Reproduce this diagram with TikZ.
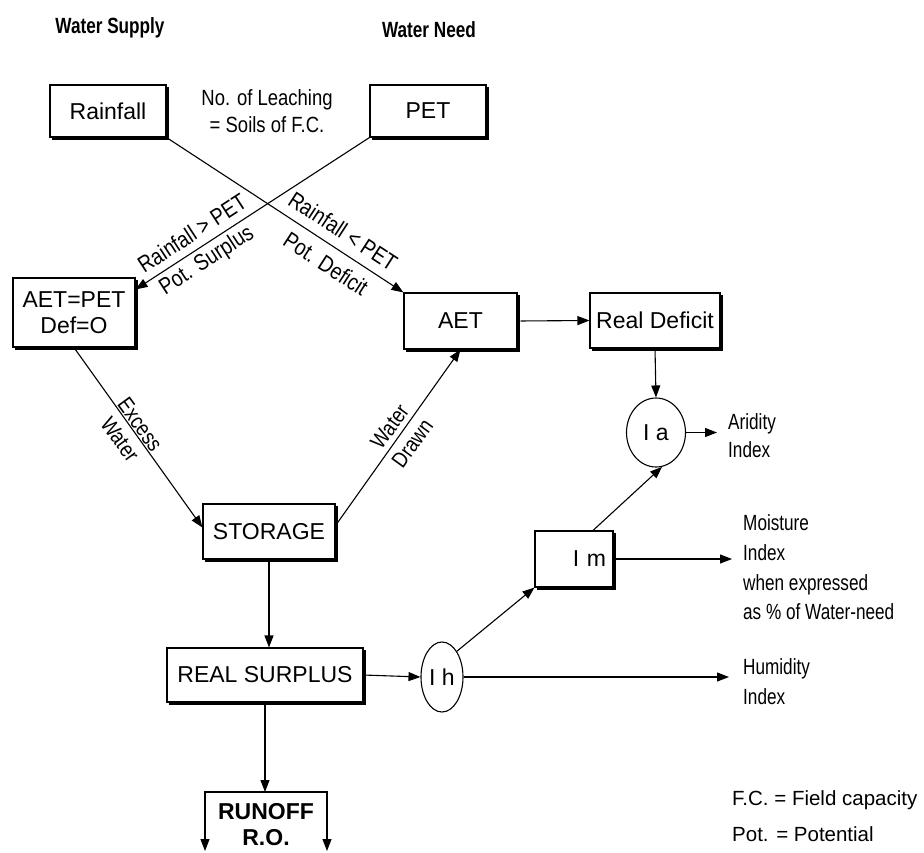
\documentclass[tikz,border=0pt]{standalone}
\usepackage{fontspec}
\setmainfont{Liberation Sans}
\newfontfamily\labfont[FakeStretch=0.78]{Liberation Sans}
\newfontfamily\diagfont[FakeStretch=0.84]{Liberation Sans}
\usetikzlibrary{arrows.meta,shapes.geometric,calc}
\newcommand\boxshade[1]{\draw[line width=2.4pt] ($(#1.south west)+(2.5,1.2)$) -- ($(#1.south east)+(1.2,1.2)$) -- ($(#1.north east)+(1.2,2.5)$);}
\begin{document}
\begin{tikzpicture}[x=1pt,y=-1pt,
  box/.style={draw, fill=white, line width=1.1pt, inner sep=0pt,
    font=\fontsize{23}{26}\selectfont},
  oval/.style={draw, ellipse, line width=1.1pt, inner sep=0pt, font=\fontsize{23}{26}\selectfont},
  lab/.style={inner sep=0pt, font=\labfont\fontsize{22}{26}\selectfont},
  dlab/.style={inner sep=0pt, font=\diagfont\fontsize{23}{26}\selectfont},
  ttl/.style={inner sep=0pt, font=\labfont\bfseries\fontsize{22}{26}\selectfont},
  leg/.style={inner sep=0pt, anchor=west, font=\fontsize{20.5}{24}\selectfont},
  tip/.tip={Triangle[length=12pt,width=9pt]},
  con/.style={line width=1.1pt, -tip}]
\useasboundingbox (0,0) rectangle (924,852);

% titles
\node[ttl] (ws) at (110,28) {Water Supply};
\node[ttl] (wn) at (429,30) {Water Need};

% boxes
\node[box, minimum width=116pt, minimum height=52pt] (rain) at (108,111) {Rainfall};
\node[box, minimum width=116pt, minimum height=52pt] (pet) at (428,111) {PET};
\node[dlab, align=center, font=\diagfont\fontsize{22}{27}\selectfont] (leach) at (267,111) {No. of Leaching\\= Soils of F.C.};
\node[box, minimum width=122pt, minimum height=69pt, align=center] (aetpet) at (74,312.5) {AET=PET\\Def=O};
\node[box, minimum width=113pt, minimum height=56pt] (aet) at (460.5,321) {AET};
\node[box, minimum width=130pt, minimum height=55pt] (rdef) at (655,320.5) {Real Deficit};
\node[oval, minimum width=59pt, minimum height=69pt] (ia) at (656,432.5) {I a};
\node[lab, anchor=west, align=left, font=\labfont\fontsize{22}{28}\selectfont] (arid) at (728,436) {Aridity\\Index};
\node[box, minimum width=132pt, minimum height=55pt] (stor) at (269,531.5) {STORAGE};
\node[box, minimum width=78pt, minimum height=56pt, text width=64pt, align=right] (im) at (574,559) {I m};
\node[lab, anchor=west, align=left, font=\labfont\fontsize{22}{29.7}\selectfont] (moist) at (743,567.5) {Moisture\\Index\\when expressed\\as \% of Water-need};
\node[box, minimum width=196pt, minimum height=54pt] (rs) at (265,675) {REAL SURPLUS};
\node[oval, minimum width=42pt, minimum height=70pt] (ih) at (442,677) {I h};
\node[lab, anchor=west, align=left, font=\labfont\fontsize{22}{30}\selectfont] (hum) at (743,682) {Humidity\\Index};
\node[inner sep=0pt, align=center, font=\bfseries\fontsize{23}{26}\selectfont] (ro) at (266,825) {RUNOFF\\R.O.};
\coordinate (rtl) at (205,792);
\coordinate (rtr) at (327,792);
\coordinate (rbl) at (205,851);
\coordinate (rbr) at (327,851);
\coordinate (rtop) at (268,792);

% box shading (thick lower and right edges)
\boxshade{rain}
\boxshade{pet}
\boxshade{aetpet}
\boxshade{aet}
\boxshade{rdef}
\boxshade{stor}
\boxshade{im}
\boxshade{rs}

% legend
\node[leg] (fc) at (732,800) {F.C. = Field capacity};
\node[leg] (pot) at (732,834) {Pot. = Potential};

% diagonal labels
\node[dlab, rotate=33] (l1) at (192,233) {Rainfall > PET};
\node[dlab, rotate=33] (l2) at (207,261) {Pot. Surplus};
\node[dlab, rotate=-33] (l3) at (343,231) {Rainfall < PET};
\node[dlab, rotate=-33] (l4) at (326,264) {Pot. Deficit};
\node[dlab, rotate=-54, align=center, font=\diagfont\fontsize{22}{25}\selectfont] (l5) at (130,432) {Excess\\Water};
\node[dlab, rotate=54, align=center, font=\diagfont\fontsize{22}{28}\selectfont] (l6) at (401,435) {Water\\Drawn};

% connectors
\draw[con] (rain.south east) -- (aet.north west);
\draw[con] (pet.south west) -- ($(aetpet.north east)+(0,12)$);
\draw[con] (aetpet.south) -- ($(stor.west)+(0,-4)$);
\draw[con] ($(stor.east)+(0,-6)$) -- (aet.south);
\draw[con, shorten <=3pt] (aet.east) -- (rdef.west);
\draw[con] (rdef.south) -- (ia.north);
\draw[con, shorten >=11pt] (ia.east) -- (ia.east -| arid.west);
\draw[con] (stor.south) -- (stor.south |- rs.north);
\draw[con] (rs.east) -- (ih.west);
\draw[con] (ih.60) -- (im.south west);
\draw[con] ($(im.north)+(19,0)$) -- (ia.-80);
\draw[con, shorten >=11pt] (im.east) -- (im.east -| moist.west);
\draw[con, shorten >=14pt] (ih.east) -- (ih.east -| hum.west);
\draw[con] (rs.south) -- (rs.south |- rtop);
\draw[line width=1.1pt, tip-tip] (rbl) -- (rtl) -- (rtr) -- (rbr);
\end{tikzpicture}
\end{document}
